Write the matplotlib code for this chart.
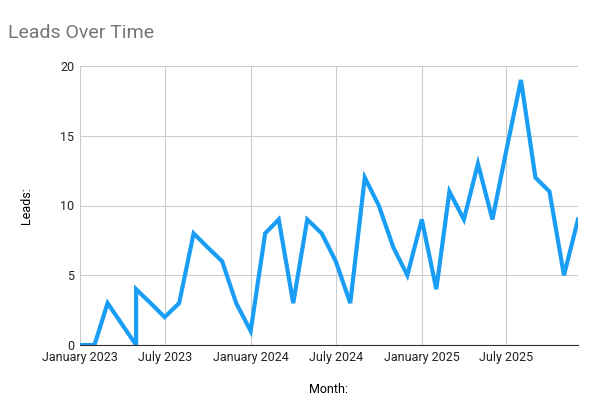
import matplotlib.pyplot as plt
from datetime import date

months = ["2023-01", "2023-02", "2023-03", "2023-05", "2023-05", "2023-06", "2023-07", "2023-08",
          "2023-09", "2023-10", "2023-11", "2023-12", "2024-01", "2024-02", "2024-03", "2024-04",
          "2024-05", "2024-06", "2024-07", "2024-08", "2024-09", "2024-10", "2024-11", "2024-12",
          "2025-01", "2025-02", "2025-03", "2025-04", "2025-05", "2025-06", "2025-07", "2025-08",
          "2025-09", "2025-10", "2025-11", "2025-12"]
leads = [0, 0, 3, 0, 4, 3, 2, 3, 8, 7, 6, 3, 1, 8, 9, 3, 9, 8, 6, 3, 12, 10, 7, 5,
         9, 4, 11, 9, 13, 9, 14, 19, 12, 11, 5, 9]
tick_months = ["2023-01", "2023-07", "2024-01", "2024-07", "2025-01", "2025-07"]
tick_labels = ["January 2023", "July 2023", "January 2024", "July 2024", "January 2025", "July 2025"]

def to_date(s):
    y, m = s.split("-")
    return date(int(y), int(m), 1)

x = [to_date(m) for m in months]

plt.rcParams['font.family'] = ['Roboto', 'DejaVu Sans']
fig = plt.figure(figsize=(6, 4.18), dpi=100)
ax = fig.add_axes([80/600, 1-345/418, 498/600, 279/418])
ax.plot(x, leads, color="#1a9ef5", linewidth=3, solid_joinstyle="miter")

ax.set_xlim(x[0], x[-1])
ax.set_ylim(0, 20)
ax.set_yticks([0, 5, 10, 15, 20])
ax.set_xticks([to_date(t) for t in tick_months])
ax.set_xticklabels(tick_labels)
ax.grid(True, color="#cccccc", linewidth=0.8)
ax.set_axisbelow(True)
for s in ["top", "right", "left"]:
    ax.spines[s].set_visible(False)
ax.spines["bottom"].set_color("#333333")
ax.tick_params(length=0, labelsize=9, colors="#222222", pad=4)
ax.set_xlabel("Month:", fontsize=9, labelpad=14)
ax.set_ylabel("Leads:", fontsize=9, labelpad=20)
fig.text(8/600, 1-33/418, "Leads Over Time", fontsize=14, color="#757575", va="center")
fig.savefig("out.png", dpi=100)
